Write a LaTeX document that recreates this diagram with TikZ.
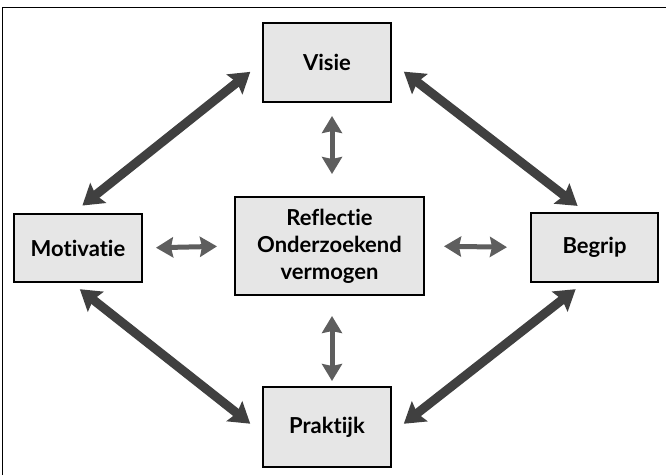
\documentclass[tikz,border=0pt]{standalone}
\usepackage{fontspec}
\setmainfont{Lato}[Ligatures={NoCommon,NoDiscretionary,NoRare}]
\usetikzlibrary{arrows.meta}

\begin{document}
\begin{tikzpicture}[x=1pt, y=-1pt,
  box/.style={draw=black, line width=2pt, fill=boxgray, inner sep=0pt,
    align=center, font=\fontsize{22}{27}\selectfont\bfseries},
  bigarrow/.style={draw=darkarrow, line width=9pt,
    {Stealth[width=25pt,length=20pt,inset=3pt]}-{Stealth[width=25pt,length=20pt,inset=3pt]}},
  smallarrow/.style={draw=lightarrow, line width=5pt,
    {Stealth[width=20pt,length=17pt,inset=2pt]}-{Stealth[width=20pt,length=17pt,inset=2pt]}}]
  \definecolor{boxgray}{HTML}{E6E6E6}
  \definecolor{darkarrow}{HTML}{404040}
  \definecolor{lightarrow}{HTML}{5E5E5E}

  \useasboundingbox (0,0) rectangle (666,475);
  \draw[line width=1pt] (2,475) -- (2,7) -- (666,7);

  \node[box, minimum width=128pt, minimum height=79pt] (visie) at (327,62.5) {Visie};
  \node[box, minimum width=128pt, minimum height=68pt] (motivatie) at (78,248) {Motivatie};
  \node[box, minimum width=189pt, minimum height=98pt] (reflectie) at (329.5,246)
    {Reflectie\\Onderzoekend\\vermogen};
  \node[box, minimum width=127pt, minimum height=69pt] (begrip) at (594.5,247.5) {Begrip};
  \node[box, minimum width=128pt, minimum height=80pt] (praktijk) at (327,427) {Praktijk};

  \draw[bigarrow, shorten <=12pt, shorten >=15pt] ([xshift=-5pt]motivatie.north) -- (visie.west);
  \draw[bigarrow, shorten <=15pt, shorten >=10pt] (visie.east) -- ([xshift=-9pt]begrip.north);
  \draw[bigarrow, shorten <=10pt, shorten >=15pt] ([xshift=-6pt]motivatie.south) -- ([yshift=-6pt]praktijk.west);
  \draw[bigarrow, shorten <=10pt, shorten >=15pt] ([xshift=-11pt]begrip.south) -- ([yshift=-6pt]praktijk.east);

  \draw[smallarrow, shorten <=13pt, shorten >=22pt] ([xshift=5pt]visie.south) -- ([xshift=2.5pt]reflectie.north);
  \draw[smallarrow, shorten <=20pt, shorten >=5pt] ([xshift=2.5pt]reflectie.south) -- ([xshift=5pt]praktijk.north);
  \draw[smallarrow, shorten <=13pt, shorten >=17pt] (motivatie.east) -- (reflectie.west);
  \draw[smallarrow, shorten <=19pt, shorten >=23pt] (reflectie.east) -- (begrip.west);
\end{tikzpicture}
\end{document}
